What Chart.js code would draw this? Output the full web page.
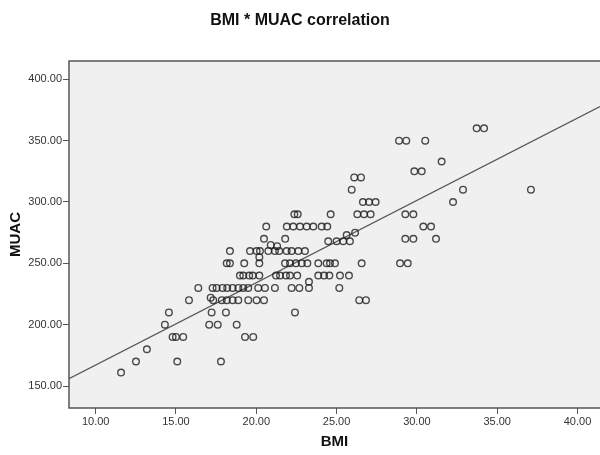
<!DOCTYPE html>
<html lang="en">
<head>
<meta charset="UTF-8">
<title>BMI * MUAC correlation</title>
<script src="https://cdn.jsdelivr.net/npm/chart.js"></script>
<style>
  body { margin: 0; background: #fff; }
  .wrap { width: 600px; height: 455px; }
</style>
</head>
<body>
<div class="wrap"><canvas id="chart"></canvas></div>
<script>
  // BMI and MUAC, paired by position, grouped roughly by MUAC row
  const bmi = [
    11.58, 12.51, 13.19, 14.31, 14.56, 14.79, 15.00, 15.45, 15.08, 15.81, 16.39,
    17.07, 17.60, 18.78, 17.22, 18.11, 22.41, 17.80, 19.30, 19.81,
    17.16, 17.32, 17.85, 18.16, 18.53, 18.88, 19.50, 20.02, 20.48, 26.41, 26.83,
    17.28, 17.53, 17.90, 18.19, 18.53, 18.88, 19.19, 19.50, 20.12, 20.54, 21.16, 22.20, 22.68, 23.28, 25.17,
    18.98, 19.19, 19.56, 19.78, 20.19, 21.23, 21.48, 21.85, 22.10, 22.55, 23.86, 24.22, 24.55, 25.21, 25.77, 23.28,
    18.16, 18.36, 19.25, 20.19, 21.79, 22.10, 22.47, 22.83, 23.18, 23.86, 24.38, 24.59, 24.90, 26.56, 28.95, 29.43, 20.19,
    18.36, 19.61, 20.02, 20.23, 20.75, 21.16, 21.43, 21.89, 22.20, 22.62, 23.03, 20.90, 21.30,
    20.48, 21.80, 24.48, 25.00, 25.41, 25.83, 29.28, 29.78, 31.19, 25.63, 26.15,
    20.62, 21.90, 22.30, 22.72, 23.14, 23.55, 24.07, 24.42, 30.40, 30.88,
    22.37, 22.58, 24.63, 26.29, 26.71, 27.12, 29.28, 29.78,
    26.64, 27.02, 27.43, 32.25, 25.94, 32.87, 37.10, 26.10, 26.52, 29.84, 30.30, 31.54, 28.89, 29.34, 30.52, 33.72, 34.18
  ];
  const muac = [
    161, 170, 180, 200, 210, 190, 190, 190, 170, 220, 230,
    200, 200, 200, 210, 210, 210, 170, 190, 190,
    222, 220, 220, 220, 220, 220, 220, 220, 220, 220, 220,
    230, 230, 230, 230, 230, 230, 230, 230, 230, 230, 230, 230, 230, 230, 230,
    240, 240, 240, 240, 240, 240, 240, 240, 240, 240, 240, 240, 240, 240, 240, 235,
    250, 250, 250, 250, 250, 250, 250, 250, 250, 250, 250, 250, 250, 250, 250, 250, 255,
    260, 260, 260, 260, 260, 260, 260, 260, 260, 260, 260, 265, 264,
    270, 270, 268, 268, 268, 268, 270, 270, 270, 273, 275,
    280, 280, 280, 280, 280, 280, 280, 280, 280, 280,
    290, 290, 290, 290, 290, 290, 290, 290,
    300, 300, 300, 300, 310, 310, 310, 320, 320, 325, 325, 333, 350, 350, 350, 360, 360
  ];

  // fit line end points
  const fitBMI = [8.34, 41.4];
  const fitMUAC = [156, 377.7];

  const xTicks = [10, 15, 20, 25, 30, 35, 40];
  const yTicks = [150, 200, 250, 300, 350, 400];

  const FONT = '"Liberation Sans", Arial, sans-serif';

  const plotFrame = {
    id: 'plotFrame',
    beforeDraw(chart) {
      const { ctx, chartArea: a } = chart;
      ctx.save();
      ctx.fillStyle = '#f0f0f0';
      ctx.fillRect(a.left, a.top, a.right - a.left + 10, a.bottom - a.top);
      ctx.restore();
    },
    beforeDatasetsDraw(chart) {
      const { ctx, chartArea: a } = chart;
      ctx.save();
      ctx.strokeStyle = '#555';
      ctx.lineWidth = 1.5;
      ctx.strokeRect(a.left, a.top, a.right - a.left + 10, a.bottom - a.top);
      ctx.restore();
    }
  };

  function axisOpts(ticks, min, max) {
    return {
      type: 'linear',
      min: min,
      max: max,
      afterBuildTicks: s => { s.ticks = ticks.map(v => ({ value: v })); },
      ticks: {
        callback: v => v.toFixed(2),
        font: { family: FONT, size: 11 },
        color: '#333',
        autoSkip: false,
        maxRotation: 0,
        padding: 1
      },
      grid: { drawOnChartArea: false, tickLength: 6, color: '#555', lineWidth: 1 },
      border: { display: false }
    };
  }

  const xAxis = axisOpts(xTicks, 8.34, 41.4);
  xAxis.title = { display: true, text: 'BMI', color: '#111',
    font: { family: FONT, size: 15, weight: 'bold' }, padding: { top: 0, bottom: 4 } };
  xAxis.afterFit = s => { s.height = 47; s.paddingLeft = 0; s.paddingRight = 0; };

  const yAxis = axisOpts(yTicks, 132.1, 414.9);
  yAxis.title = { display: true, text: 'MUAC', color: '#111',
    font: { family: FONT, size: 15, weight: 'bold' }, padding: { top: 7.3, bottom: 0 } };
  yAxis.afterFit = s => { s.width = 69; s.paddingTop = 0; s.paddingBottom = 0; };

  new Chart(document.getElementById('chart'), {
    type: 'scatter',
    data: {
      datasets: [{
        label: 'MUAC',
        data: bmi.map((b, i) => ({ x: b, y: muac[i] })),
        pointRadius: 3.3,
        pointBorderWidth: 1.4,
        borderColor: 'rgba(30,30,30,0.8)',
        backgroundColor: 'rgba(0,0,0,0)'
      }, {
        label: 'Fit',
        data: fitBMI.map((b, i) => ({ x: b, y: fitMUAC[i] })),
        showLine: true,
        pointRadius: 0,
        borderColor: '#555',
        borderWidth: 1.2
      }]
    },
    options: {
      responsive: true,
      maintainAspectRatio: false,
      animation: false,
      layout: { padding: 0, autoPadding: false },
      plugins: {
        legend: { display: false },
        tooltip: { enabled: false },
        title: {
          display: true,
          text: 'BMI * MUAC correlation',
          color: '#111',
          font: { family: FONT, size: 16, weight: 'bold' },
          padding: { top: 11.4, bottom: 30.4 }
        }
      },
      scales: { x: xAxis, y: yAxis }
    },
    plugins: [plotFrame]
  });
</script>
</body>
</html>
